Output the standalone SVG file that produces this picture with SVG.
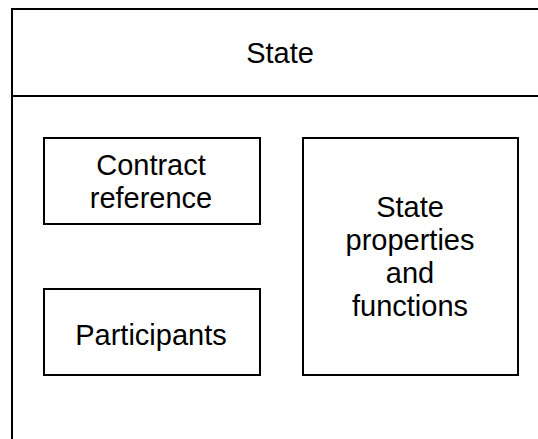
<svg xmlns="http://www.w3.org/2000/svg" width="538" height="439" viewBox="0 0 538 439">
<style>
.box{fill:#fff;stroke:#000;stroke-width:2}
.ln{fill:none;stroke:#000;stroke-width:2}
text{font-family:"Liberation Sans",Arial,Helvetica,sans-serif;font-size:29px;fill:#000;text-anchor:middle}
</style>
<rect width="538" height="439" fill="#fff"/>
<g id="state">
<rect class="box" x="12" y="9" width="540" height="440"/>
<line class="ln" x1="12" y1="96" x2="552" y2="96"/>
<text x="280" y="63">State</text>
</g>
<g id="contract-reference">
<rect class="box" x="44" y="138" width="216" height="86"/>
<text x="151" y="175">Contract</text>
<text x="151" y="208">reference</text>
</g>
<g id="participants">
<rect class="box" x="44" y="289" width="216" height="86"/>
<text x="151" y="345">Participants</text>
</g>
<g id="state-properties">
<rect class="box" x="303" y="138" width="215" height="237"/>
<text x="410" y="217">State</text>
<text x="410" y="250">properties</text>
<text x="410" y="283">and</text>
<text x="410" y="316">functions</text>
</g>
<g id="connectors"></g>
</svg>
